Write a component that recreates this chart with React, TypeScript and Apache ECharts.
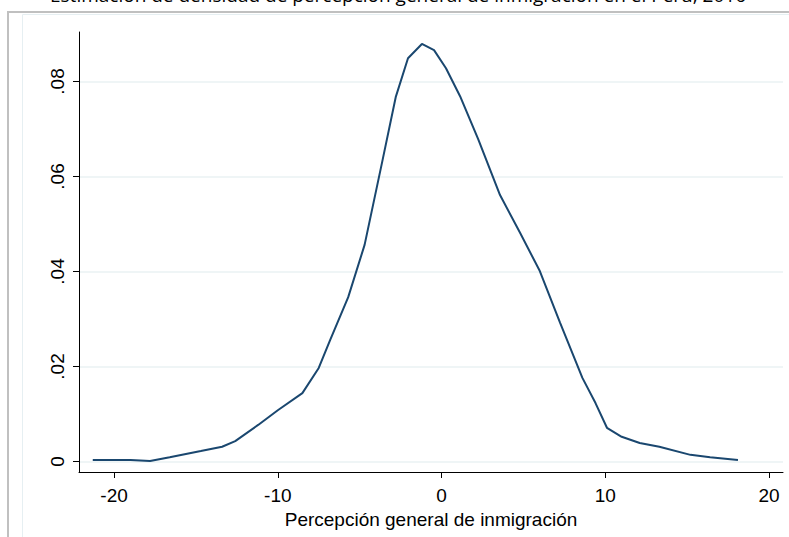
import React, { useEffect, useRef } from "react";
import * as echarts from "echarts";

const xValues = [
  -21.3, -19.0, -17.8, -16.6, -14.7, -13.4, -12.6, -11.2, -10.0, -8.5,
  -7.5, -6.8, -5.7, -4.7, -3.6, -2.8, -2.05, -1.2, -0.46, 0.27,
  1.13, 2.23, 3.57, 4.8, 6.0, 7.24, 8.6, 9.4, 10.1, 11.0,
  12.1, 13.3, 15.2, 16.4, 18.1,
];
const densityValues = [
  0.0003, 0.0003, 0.0001, 0.0009, 0.0022, 0.0031, 0.0043, 0.0077, 0.0108, 0.0144,
  0.0197, 0.0256, 0.0346, 0.0456, 0.0635, 0.0767, 0.0849, 0.0879, 0.0866, 0.0828,
  0.0769, 0.0679, 0.0561, 0.0481, 0.0401, 0.0292, 0.0176, 0.0123, 0.0071, 0.0052,
  0.0039, 0.0031, 0.0014, 0.0009, 0.0003,
];
const xTicks = [-20, -10, 0, 10, 20];
const yTicks = [0, 0.02, 0.04, 0.06, 0.08];
const xTitle = "Percepción general de inmigración";
const topTitle = "Estimación de densidad de percepción general de inmigración en el Perú, 2016";

const axisFont = "Liberation Sans, Arial, sans-serif";

export default function App() {
  const ref = useRef<HTMLDivElement>(null);
  useEffect(() => {
    if (!ref.current) return;
    const chart = echarts.init(ref.current, null, { renderer: "svg" });
    const data = xValues.map((x, i) => [x, densityValues[i]]);
    chart.setOption({
      animation: false,
      backgroundColor: "#ffffff",
      textStyle: { fontFamily: axisFont },
      graphic: [
        {
          type: "text",
          left: 50,
          top: -15,
          style: { text: topTitle, fontSize: 19, fill: "#000", fontFamily: "Open Sans, sans-serif" },
          z: 10,
        },
        {
          type: "rect",
          shape: { x: 8, y: 12, width: 800, height: 600 },
          style: { fill: "none", stroke: "#c0c0c0", lineWidth: 2 },
          silent: true,
        },
        {
          type: "rect",
          shape: { x: 22.5, y: 14.5, width: 800, height: 600 },
          style: { fill: "none", stroke: "#e6eff2", lineWidth: 1 },
          silent: true,
        },
      ],
      grid: { left: 79, top: 32, right: 6, bottom: 65, containLabel: false },
      xAxis: {
        type: "value",
        min: -22.14,
        max: 20.85,
        name: xTitle,
        nameLocation: "middle",
        nameGap: 35,
        nameTextStyle: { fontSize: 19, color: "#000", fontFamily: axisFont },
        axisLine: { show: true, onZero: false, lineStyle: { color: "#000", width: 1 } },
        axisTick: { show: true, length: 6, customValues: xTicks, lineStyle: { color: "#000" } },
        axisLabel: {
          customValues: xTicks,
          fontSize: 19,
          color: "#000",
          margin: 14,
          fontFamily: axisFont,
        },
        splitLine: { show: false },
      },
      yAxis: {
        type: "value",
        min: -0.00221,
        max: 0.09042,
        axisLine: { show: true, onZero: false, lineStyle: { color: "#000", width: 1 } },
        axisTick: { show: true, length: 6, customValues: yTicks, lineStyle: { color: "#000" } },
        axisLabel: {
          customValues: yTicks,
          rotate: 90,
          fontSize: 19,
          color: "#000",
          margin: 12,
          fontFamily: axisFont,
          formatter: (v: number) => (v === 0 ? "0" : v.toFixed(2).replace(/^0/, "")),
        },
        splitLine: { show: true, lineStyle: { color: "#eaf2f3", width: 1.5 } },
      },
      series: [
        {
          type: "line",
          data,
          showSymbol: false,
          symbol: "none",
          smooth: false,
          lineStyle: { color: "#1a476f", width: 2 },
        },
      ],
    });
    return () => chart.dispose();
  }, []);
  return (
    <div
      ref={ref}
      style={{ position: "fixed", left: 0, top: 0, width: 789, height: 537 }}
    />
  );
}
